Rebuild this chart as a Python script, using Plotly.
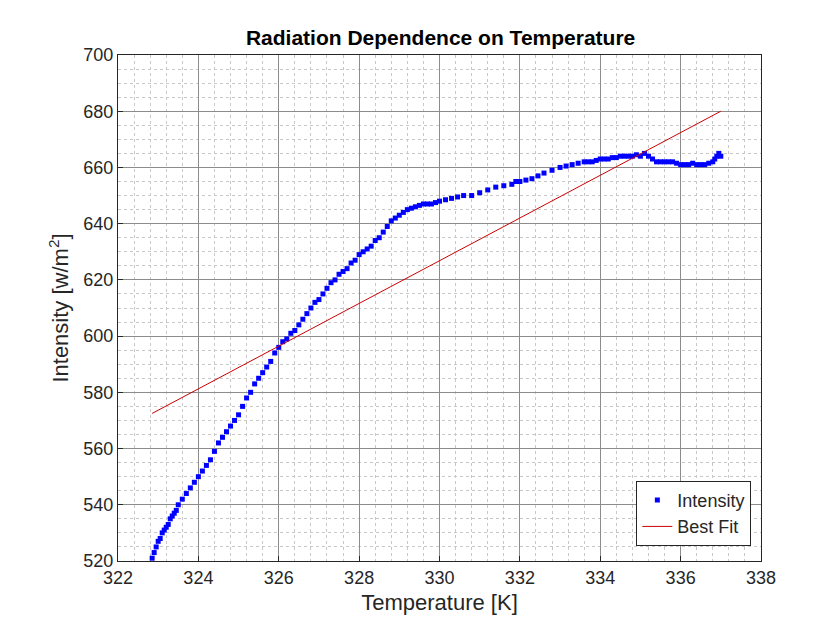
import plotly.graph_objects as go

temp = [322.85, 322.9, 322.95, 323.0, 323.05, 323.1, 323.15, 323.2, 323.25, 323.3, 323.35, 323.4,
        323.45, 323.5, 323.6, 323.7, 323.8, 323.9, 324.0, 324.1, 324.2, 324.3,
        324.4, 324.5, 324.6, 324.7, 324.8, 324.9, 325.0, 325.1, 325.2, 325.3, 325.4, 325.5,
        325.6, 325.7, 325.8, 325.9, 326.0, 326.1, 326.2, 326.3, 326.4, 326.5,
        326.6, 326.7, 326.8, 326.9, 327.0, 327.1, 327.2, 327.3, 327.4, 327.5, 327.6, 327.7,
        327.8, 327.9, 328.0, 328.1, 328.2, 328.3, 328.4, 328.5, 328.6, 328.7,
        328.8, 328.9, 329.0, 329.1, 329.2, 329.3, 329.4, 329.5, 329.6, 329.7, 329.8, 329.9,
        330.0, 330.15, 330.3, 330.45, 330.6, 330.8, 331.0, 331.2, 331.4,
        331.6, 331.8, 331.9, 332.0, 332.15, 332.3, 332.45, 332.6, 332.8, 333.0, 333.15,
        333.3, 333.45, 333.6, 333.7, 333.8, 333.9, 334.0, 334.1, 334.2, 334.3, 334.4,
        334.5, 334.6, 334.7, 334.8, 334.9, 335.0, 335.1, 335.2, 335.3, 335.4, 335.5,
        335.6, 335.7, 335.8, 335.9, 336.0, 336.1, 336.2, 336.3, 336.4, 336.5,
        336.6, 336.7, 336.8, 336.85, 336.9, 336.95, 337.0]
intensity = [521, 523, 525, 527, 528, 530, 531, 532, 533, 535, 536, 537,
             538, 540, 542, 544, 546, 548, 550, 552, 554, 556,
             559, 562, 564, 566, 568, 570, 572, 575, 578, 580, 583, 585,
             587, 589, 591, 594, 596, 598, 599, 601, 602, 604,
             606, 608, 610, 612, 613, 615, 617, 619, 620, 622, 623, 624,
             626, 627, 629, 630, 631, 632, 634, 635, 637, 639,
             641, 642, 643, 644, 645, 645.5, 646, 646.5, 647, 647, 647, 647.5,
             648, 648.5, 649, 649.5, 650, 650, 651, 652, 653,
             653.5, 654, 655, 655, 655.5, 656, 657, 658, 659, 660, 660.5,
             661, 661.5, 662, 662, 662, 662.5, 663, 663, 663, 663.5, 663.5,
             664, 664, 664, 664, 664.5, 664, 665, 664, 663, 662, 662,
             662, 662, 662, 661.5, 661, 661, 661, 661.5, 661, 661,
             661, 661.5, 662, 663, 664, 665, 664]
fit_temp = [322.85, 337.0]
fit_intensity = [572.5, 680.0]

fig = go.Figure()
fig.add_trace(go.Scatter(x=temp, y=intensity, mode="markers", name="Intensity",
                         marker=dict(symbol="square", size=5, color="#0000ff")))
fig.add_trace(go.Scatter(x=fit_temp, y=fit_intensity, mode="lines", name="Best Fit",
                         line=dict(color="#cc0000", width=1)))

ax = dict(showline=True, linecolor="#262626", linewidth=1, mirror=True,
          ticks="inside", ticklen=5, tickcolor="#262626",
          showgrid=True, gridcolor="#8c8c8c", gridwidth=1, zeroline=False,
          tickfont=dict(size=18, color="#262626"))
fig.update_xaxes(**ax, range=[322, 338], dtick=2,
                 minor=dict(dtick=0.4, showgrid=True, gridcolor="#c8c8c8", griddash="dot"),
                 title=dict(text="Temperature [K]", font=dict(size=22, color="#262626"), standoff=8))
fig.update_yaxes(**ax, range=[520, 700], dtick=20,
                 minor=dict(dtick=5, showgrid=True, gridcolor="#c8c8c8", griddash="dot"),
                 title=dict(text="Intensity [w/m<sup>2</sup>]", font=dict(size=22, color="#262626"), standoff=8))
fig.update_layout(
    width=840, height=630, plot_bgcolor="white", paper_bgcolor="white",
    font=dict(family="Liberation Sans, Arial", color="#262626"),
    title=dict(text="<b>Radiation Dependence on Temperature</b>", x=0.515, y=0.965,
               font=dict(size=21, color="black")),
    margin=dict(l=110, r=87, t=47, b=77),
    legend=dict(x=0.985, y=0.03, xanchor="right", yanchor="bottom",
                bordercolor="#262626", borderwidth=1, bgcolor="white",
                font=dict(size=18)),
)
fig.write_html("out.html")
